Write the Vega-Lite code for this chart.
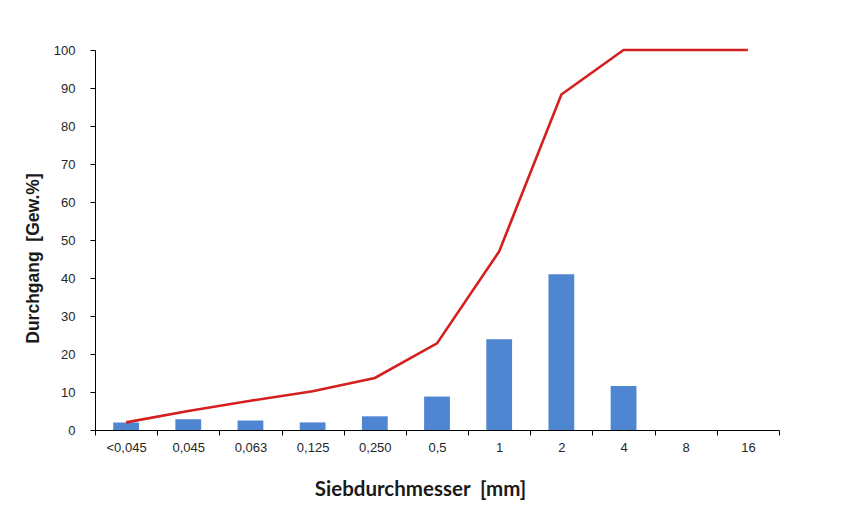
{
  "$schema": "https://vega.github.io/schema/vega-lite/v6.json",
  "width": 684,
  "height": 380,
  "autosize": {"type": "none"},
  "padding": {"left": 95, "top": 50, "right": 77, "bottom": 92},
  "background": "white",
  "config": {
    "view": {"stroke": null},
    "axis": {
      "grid": false,
      "domainColor": "#000000",
      "domainWidth": 1,
      "tickColor": "#000000",
      "tickWidth": 1,
      "labelFont": "Liberation Sans",
      "labelColor": "#262626",
      "labelFontSize": 13,
      "titleColor": "#1a1a1a"
    },
    "axisY": {"tickCount": 10, "labelOverlap": false}
  },
  "data": {
    "values": [
      {"Sieb": "<0,045", "Anteil": 2.0, "Durchgang": 2.0},
      {"Sieb": "0,045", "Anteil": 2.8, "Durchgang": 5.0},
      {"Sieb": "0,063", "Anteil": 2.5, "Durchgang": 7.7},
      {"Sieb": "0,125", "Anteil": 2.0, "Durchgang": 10.2},
      {"Sieb": "0,250", "Anteil": 3.6, "Durchgang": 13.7},
      {"Sieb": "0,5", "Anteil": 8.8, "Durchgang": 22.8},
      {"Sieb": "1", "Anteil": 23.9, "Durchgang": 47.0},
      {"Sieb": "2", "Anteil": 41.0, "Durchgang": 88.3},
      {"Sieb": "4", "Anteil": 11.6, "Durchgang": 100},
      {"Sieb": "8", "Anteil": null, "Durchgang": 100},
      {"Sieb": "16", "Anteil": null, "Durchgang": 100}
    ]
  },
  "encoding": {
    "x": {
      "field": "Sieb",
      "type": "ordinal",
      "sort": null,
      "scale": {"type": "band", "paddingInner": 0, "paddingOuter": 0},
      "axis": {
        "title": "Siebdurchmesser\u00a0\u00a0[mm]",
        "labelAngle": 0,
        "labelFont": "Liberation Sans",
        "labelFontSize": 13,
        "labelColor": "#262626",
        "tickBand": "extent",
        "tickSize": 5,
        "labelPadding": 6,
        "titleFont": "Lato",
        "titleFontSize": 20.5,
        "titleFontWeight": "bold",
        "titleX": 325,
        "titleY": 59,
        "titleBaseline": "middle",
        "titleAlign": "center"
      }
    },
    "y": {
      "field": "Durchgang",
      "type": "quantitative",
      "scale": {"domain": [0, 100], "nice": false},
      "axis": {
        "title": "Durchgang\u00a0\u00a0[Gew.%]",
        "tickCount": 10,
        "labelOverlap": false,
        "labelFont": "Liberation Sans",
        "labelFontSize": 13,
        "labelColor": "#262626",
        "tickSize": 5,
        "labelPadding": 15,
        "titleFont": "Liberation Sans",
        "titleFontSize": 17.5,
        "titleFontWeight": "bold",
        "titleAngle": -90,
        "titleX": -62,
        "titleY": 208,
        "titleBaseline": "middle",
        "titleAlign": "center"
      }
    }
  },
  "layer": [
    {
      "transform": [{"filter": "datum.Anteil != null"}],
      "mark": {"type": "bar", "color": "#4f86d2", "width": {"band": 0.415}},
      "encoding": {
        "y": {"field": "Anteil", "type": "quantitative"}
      }
    },
    {
      "mark": {"type": "line", "color": "#d41f1f", "strokeWidth": 2.6}
    }
  ]
}
